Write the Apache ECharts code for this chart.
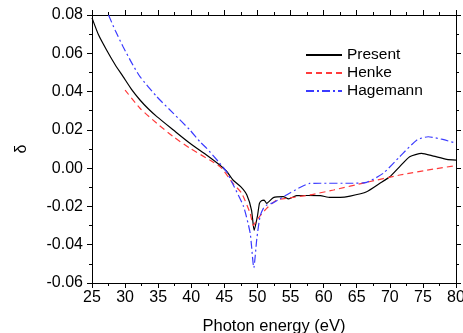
<!DOCTYPE html>
<html>
<head>
<meta charset="utf-8">
<script src="https://cdn.jsdelivr.net/npm/echarts@6/dist/echarts.min.js"></script>
<style>
html, body { margin: 0; padding: 0; background: #fff; }
#chart { width: 463px; height: 333px; }
</style>
</head>
<body>
<div id="chart"></div>
<script>
// values
var presentX = [25, 26, 27.2, 28.5, 29.7, 31, 32.25, 33.5, 34.8, 37.3, 39.8, 42.3, 44.1, 45.3, 46.3, 47.5, 48.4, 49.1, 49.5, 50, 50.3, 50.6, 51, 51.4, 52.4, 53.9, 54.7, 55.9, 57.5, 59.5, 61, 62.5, 64, 66.5, 68.5, 70, 71.5, 73, 74.8, 76.6, 78.6, 80];
var presentY = [0.0785, 0.0695, 0.0617, 0.054, 0.0478, 0.041, 0.0356, 0.031, 0.0269, 0.0199, 0.013, 0.0069, 0.0022, -0.0015, -0.0062, -0.0098, -0.014, -0.0219, -0.0325, -0.025, -0.0184, -0.017, -0.0167, -0.0184, -0.0154, -0.0149, -0.0161, -0.0144, -0.0143, -0.0144, -0.0153, -0.0153, -0.0146, -0.0123, -0.0079, -0.0045, 0.0008, 0.006, 0.0077, 0.0063, 0.0046, 0.0042];

var henkeX = [30, 32.25, 34.8, 37.3, 39.8, 42.8, 44.5, 46.3, 47.6, 48.9, 49.4, 49.9, 51.4, 52.9, 54.9, 57.9, 61.5, 66.5, 71.5, 76.6, 80];
var henkeY = [0.0408, 0.0313, 0.0234, 0.0164, 0.0104, 0.0042, 0.0003, -0.008, -0.013, -0.0236, -0.03, -0.027, -0.021, -0.0167, -0.0155, -0.014, -0.0114, -0.0074, -0.0036, -0.0005, 0.0013];

var hagemannX = [27.5, 28.5, 29.7, 31, 32.25, 34.8, 37.3, 39.8, 41.3, 42.3, 44.1, 45.35, 46.35, 47.9, 48.9, 49.45, 49.9, 50.4, 50.9, 51.4, 52.4, 54.9, 57.9, 59.5, 64, 66.5, 69, 71.5, 74.1, 75.8, 78, 80];
var hagemannY = [0.08, 0.072, 0.0634, 0.055, 0.0478, 0.0373, 0.0286, 0.0199, 0.0138, 0.0105, 0.0034, -0.002, -0.0088, -0.02, -0.034, -0.052, -0.037, -0.025, -0.021, -0.0193, -0.018, -0.013, -0.008, -0.0079, -0.0079, -0.0074, -0.0027, 0.006, 0.0147, 0.0164, 0.015, 0.013];

function pairs(xs, ys) {
    return xs.map(function (x, i) { return [x, ys[i]]; });
}

function frameAxis(extra) {
    var ax = {
        type: 'value',
        axisLine: { onZero: false, lineStyle: { color: '#000', width: 1 } },
        axisTick: { length: 5, lineStyle: { color: '#000' } },
        minorTick: { show: true, splitNumber: 2, length: 3, lineStyle: { color: '#000' } },
        splitLine: { show: false }
    };
    for (var k in extra) ax[k] = extra[k];
    return ax;
}

var font = 'Liberation Sans';
var myChart = echarts.init(document.getElementById('chart'));
option = {
    animation: false,
    textStyle: { fontFamily: font },
    grid: { left: 92, right: 7, top: 15, bottom: 50, outerBoundsMode: 'none' },
    legend: {
        left: 300,
        top: 42,
        orient: 'vertical',
        itemWidth: 36,
        itemHeight: 12,
        itemGap: 2,
        itemStyle: { opacity: 0 },
        textStyle: { fontFamily: font, fontSize: 15.5, color: '#000' },
        data: ['Present', 'Henke', 'Hagemann']
    },
    xAxis: [
        frameAxis({
            min: 25, max: 80, interval: 5,
            name: 'Photon energy (eV)',
            nameLocation: 'middle',
            nameGap: 35,
            nameTextStyle: { fontSize: 16.5, color: '#000' },
            axisLabel: { fontSize: 16, color: '#000', margin: 7 }
        }),
        frameAxis({
            position: 'top',
            min: 25, max: 80, interval: 5,
            axisLabel: { show: false }
        })
    ],
    yAxis: [
        frameAxis({
            min: -0.06, max: 0.08, interval: 0.02,
            name: 'δ',
            nameLocation: 'middle',
            nameGap: 62,
            nameTextStyle: { fontSize: 16, color: '#000' },
            axisLabel: {
                fontSize: 16, color: '#000', margin: 9,
                formatter: function (v) { return v.toFixed(2); }
            }
        }),
        frameAxis({
            position: 'right',
            min: -0.06, max: 0.08, interval: 0.02,
            axisLabel: { show: false }
        })
    ],
    series: [{
        name: 'Present',
        type: 'line',
        data: pairs(presentX, presentY),
        symbol: 'none',
        smooth: 0.2,
        itemStyle: { color: '#000' },
        lineStyle: { color: '#000', width: 1.2 }
    }, {
        name: 'Henke',
        type: 'line',
        data: pairs(henkeX, henkeY),
        symbol: 'none',
        smooth: 0.2,
        itemStyle: { color: '#ff3b3b' },
        lineStyle: { color: '#ff3b3b', width: 1.2, type: [6, 4] }
    }, {
        name: 'Hagemann',
        type: 'line',
        data: pairs(hagemannX, hagemannY),
        symbol: 'none',
        smooth: 0.2,
        itemStyle: { color: '#3b3bff' },
        lineStyle: { color: '#3b3bff', width: 1.2, type: [8, 3, 2, 3] }
    }]
};
myChart.setOption(option);
</script>
</body>
</html>
